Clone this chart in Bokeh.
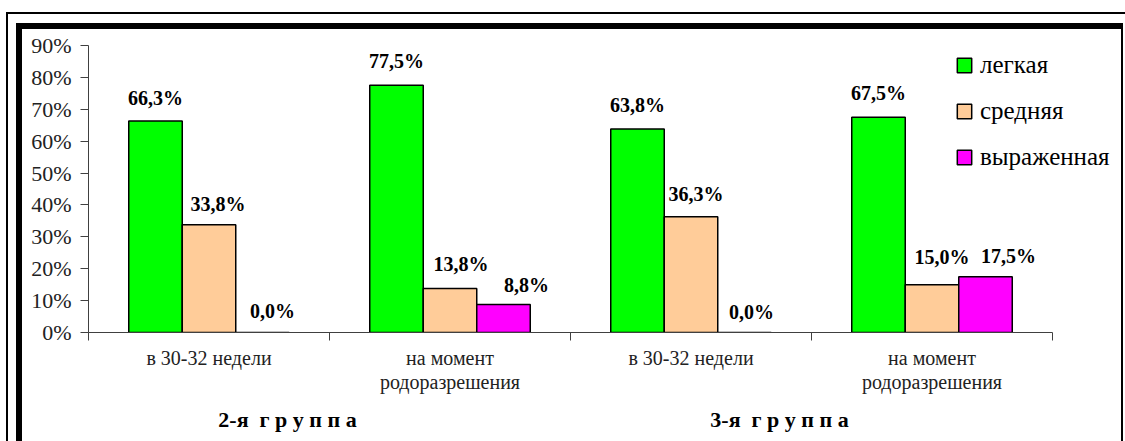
from bokeh.plotting import figure
from bokeh.models import (ColumnDataSource, LabelSet, Legend, LegendItem, LinearAxis,
                          FixedTicker, PrintfTickFormatter, Range1d)
from bokeh.core.properties import value
from bokeh.embed import file_html
from bokeh.resources import INLINE

# ---- data ----
categories = ["в 30-32 недели", "на момент\nродоразрешения",
              "в 30-32 недели", "на момент\nродоразрешения"]
groups = ["2-я\u00a0 г р у п п а", "3-я\u00a0 г р у п п а"]
series = ["легкая", "средняя", "выраженная"]
light = [66.3, 77.5, 63.8, 67.5]
medium = [33.8, 13.8, 36.3, 15.0]
severe = [0.0, 8.8, 0.0, 17.5]
yticks = [0, 10, 20, 30, 40, 50, 60, 70, 80, 90]

# label nudges (px), per series / per category
label_dx = [[0, 0, 0, 0], [9, 11, 5, 10], [10, 23, 7, 23]]
label_dy = [[16, 17, 17, 17], [14, 17, 16, 21], [15, 12, 14, 14]]
group_dx = [-42, -32]

colors = ["#00FF00", "#FFCC99", "#FF00FF"]
FONT = "Liberation Serif"
AXC = "#404040"

# ---- layout (px) ----
W, H = 1125, 441
F_LEFT, F_TOP, F_BOTTOM = 88, 45, 332
AXIS_RIGHT = 1052          # where the category axis ends
F_RIGHT = 1119             # frame extends further so the legend fits inside
n = len(categories)
px_per_cat = (AXIS_RIGHT - F_LEFT) / n
x_end = (F_RIGHT - F_LEFT) / px_per_cat

css = """
:host::before { content: ""; position: absolute; left: 6px; top: 12px; right: 0; bottom: 0;
  box-sizing: border-box; border-style: solid; border-color: #000;
  border-width: 2px 0 0 2px; pointer-events: none; z-index: 100; }
:host::after { content: ""; position: absolute; left: 16px; top: 23px; width: 1107px; bottom: 0;
  box-sizing: border-box; border-style: solid; border-color: #000;
  border-width: 6px 2px 0 6px; pointer-events: none; z-index: 100; }
"""

p = figure(width=W, height=H, output_backend="svg", toolbar_location=None,
           x_range=Range1d(0, x_end), y_range=Range1d(0, 90),
           min_border_left=F_LEFT, min_border_right=W - F_RIGHT,
           min_border_top=F_TOP, min_border_bottom=H - F_BOTTOM)
p.stylesheets = [css]
p.outline_line_color = None
p.xgrid.grid_line_color = None
p.ygrid.grid_line_color = None
p.background_fill_color = "white"
p.border_fill_color = "white"

bw = 0.222
values = [light, medium, severe]
items = []
for k, vals in enumerate(values):
    xs = [i + 0.5 + (k - 1) * bw for i in range(n)]
    src = ColumnDataSource(dict(
        x=xs, top=vals,
        text=[f"{v:.1f}%".replace(".", ",") for v in vals],
        dx=label_dx[k], dy=label_dy[k]))
    r = p.vbar(x="x", top="top", width=bw, bottom=0, source=src,
               fill_color=colors[k], line_color="black", line_width=1.5)
    items.append(LegendItem(label=series[k], renderers=[r]))
    ls = LabelSet(x="x", y="top", text="text", source=src,
                  x_offset="dx", y_offset="dy",
                  text_font=value(FONT), text_font_style="bold",
                  text_font_size="20px", text_align="center",
                  text_baseline="alphabetic", text_color="black")
    p.add_layout(ls)

# category axis
ax = p.xaxis[0]
ax.bounds = (0, n)
ax.ticker = FixedTicker(ticks=[i + 0.5 for i in range(n)],
                        minor_ticks=list(range(n + 1)))
ax.major_label_overrides = {i + 0.5: c for i, c in enumerate(categories)}
ax.major_tick_line_color = None
ax.major_tick_out = 0
ax.major_tick_in = 0
ax.minor_tick_in = 0
ax.minor_tick_out = 8
ax.minor_tick_line_color = AXC
ax.axis_line_color = AXC
ax.major_label_standoff = 6
ax.major_label_text_font = FONT
ax.major_label_text_font_size = "20px"
ax.major_label_text_color = "#222222"
ax.major_label_text_line_height = 1.1

# group axis
gticks = [2 * g + 1 + group_dx[g] / px_per_cat for g in range(len(groups))]
gax = LinearAxis(ticker=FixedTicker(ticks=gticks, minor_ticks=[]),
                 major_label_overrides={t: name for t, name in zip(gticks, groups)},
                 axis_line_color=None, major_tick_line_color=None,
                 major_tick_out=0, major_tick_in=0, minor_tick_line_color=None,
                 major_label_standoff=11, bounds=(0, n),
                 major_label_text_font=FONT, major_label_text_font_style="bold",
                 major_label_text_font_size="22px", major_label_text_color="black")
p.add_layout(gax, "below")

ay = p.yaxis[0]
ay.ticker = FixedTicker(ticks=yticks, minor_ticks=[])
ay.formatter = PrintfTickFormatter(format="%d%%")
ay.major_tick_out = 8
ay.major_tick_in = 0
ay.major_tick_line_color = AXC
ay.axis_line_color = AXC
ay.major_label_standoff = 9
ay.major_label_text_font = FONT
ay.major_label_text_font_size = "22px"
ay.major_label_text_color = "#222222"

# legend
legend = Legend(items=items, location=(955 - F_LEFT, 161), orientation="vertical",
                glyph_width=18, glyph_height=18, label_standoff=7,
                spacing=18, padding=0, margin=0,
                border_line_color=None, background_fill_alpha=0,
                label_text_font=FONT, label_text_font_size="25px",
                label_text_color="black")
p.add_layout(legend, "center")

open("out.html", "w").write(file_html(p, INLINE))
